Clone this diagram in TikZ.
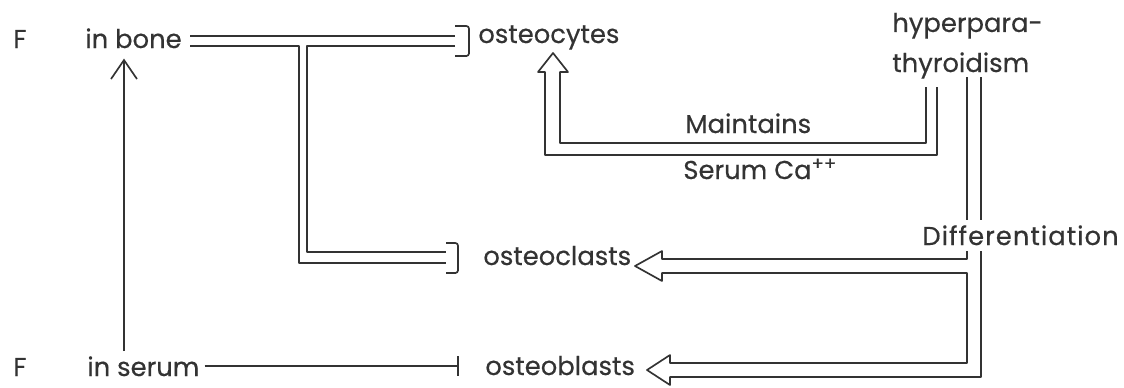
\documentclass[tikz,border=0pt]{standalone}
\usepackage{fontspec}
\setmainfont{Poppins}[FakeBold=0.4]
\usetikzlibrary{arrows.meta, calc}
\definecolor{ink}{HTML}{333333}

\tikzset{
  lbl/.style={anchor=base west, inner sep=0pt, text=ink, font=\fontsize{14.7}{18}\selectfont},
  wire/.style={draw=ink, line width=0.95pt, line join=round},
  fline/.style={wire, -{Straight Barb[length=0.38cm, width=0.52cm]}},
  tline/.style={wire, -{Bar[width=0.4cm]}},
  tbracket/.style={wire, rounded corners=1.5pt},
}

\begin{document}
\begin{tikzpicture}[x=0.02cm, y=-0.02cm]
    \useasboundingbox (0,0) rectangle (1124,387);

    % Labels
    \node[lbl] (fbone) at (13,48) {F};
    \node[lbl] (inbone) at (85,48) {in bone};
    \node[lbl] (fserum) at (13,376) {F};
    \node[lbl] (inserum) at (87,376) {in serum};
    \node[lbl] (osteocytes) at (478,43) {osteocytes};
    \node[lbl] (osteoclasts) at (483,265) {osteoclasts};
    \node[lbl] (osteoblasts) at (485,375) {osteoblasts};
    \node[lbl, align=left, font=\fontsize{14.7}{22.8}\selectfont] (hyper) at (892,72) {hyperpara-\\thyroidism};
    \node[lbl] (maintains) at (685,133) {Maintains};
    \node[lbl] (serumca) at (683,179) {Serum Ca\textsuperscript{++}};

    % F in serum to F in bone, and to osteoblasts
    \coordinate (fx) at (124,0);
    \draw[fline, shorten <=0.1cm, shorten >=0.2cm] (inserum.north -| fx) -- (inbone.south -| fx);
    \draw[tline, shorten <=0.1cm, shorten >=0.52cm] (inserum.east) -- (inserum.east -| osteoblasts.west);

    % F in bone blocks osteocytes and osteoclasts
    \draw[wire] (190,36) -- (455,36);
    \draw[wire] (190,46) -- (299,46) -- (299,263) -- (446,263);
    \draw[wire] (455,46) -- (307,46) -- (307,252) -- (446,252);
    \draw[tbracket] (455,26) -- (469,26) -- (469,56) -- (455,56);
    \draw[tbracket] (446,243) -- (458,243) -- (458,273) -- (446,273);

    % Maintains serum Ca
    \draw[wire] (926,87) -- (926,143) -- (560,143) -- (560,72) -- (568,72) -- (553,53)
        -- (538,72) -- (545,72) -- (545,155) -- (937,155) -- (937,87);

    % Differentiation
    \draw[wire] (967,77) -- (967,259) -- (662,259) -- (662,251) -- (635,266) -- (662,281)
        -- (662,273) -- (967,273) -- (967,363) -- (670,363) -- (670,355) -- (647,370)
        -- (670,385) -- (670,377) -- (981,377) -- (981,77);
    \node[lbl, fill=white, inner ysep=3pt, font=\fontsize{14.7}{18}\selectfont\addfontfeature{LetterSpace=4}] (diff) at (922,245) {Differentiation};

\end{tikzpicture}
\end{document}
